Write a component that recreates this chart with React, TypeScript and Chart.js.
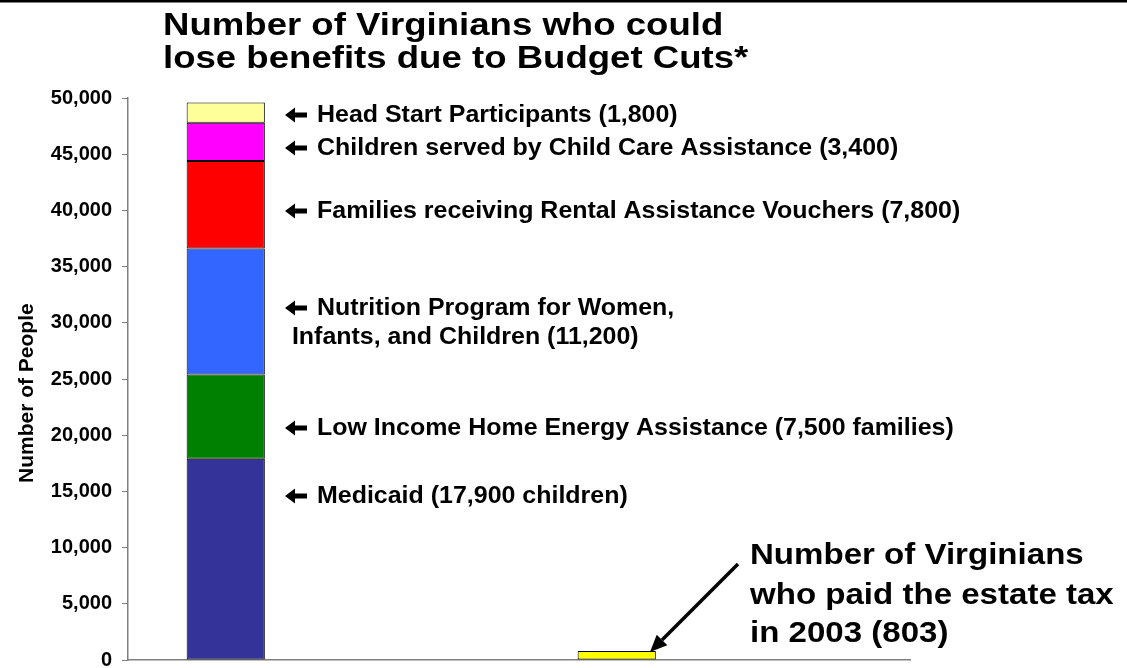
import React, { useEffect, useRef } from "react";
import { Chart, registerables } from "chart.js";

Chart.register(...registerables);

// ---------- data ----------
const categories = ["Budget cuts", "Estate tax"];
const medicaidValues = [17900, null];
const energyValues = [7500, null];
const nutritionValues = [11200, null];
const rentalValues = [7800, null];
const childCareValues = [3400, null];
const headStartValues = [1800, null];
const estateTaxValues = [null, 803];
const emptySlotValues = [null, null];

const yTickMin = 0;
const yTickMax = 50000;
const yTickStep = 5000;

const titleLines = ["Number of Virginians who could", "lose benefits due to Budget Cuts*"];
const yAxisTitle = "Number of People";
const programNotes = [
  ["Head Start Participants (1,800)"],
  ["Children served by Child Care Assistance (3,400)"],
  ["Families receiving Rental Assistance Vouchers (7,800)"],
  ["Nutrition Program for Women,", " Infants, and Children (11,200)"],
  ["Low Income Home Energy Assistance (7,500 families)"],
  ["Medicaid (17,900 children)"],
];
const estateNote = ["Number of Virginians", "who paid the estate tax", "in 2003 (803)"];

// ---------- styling / layout ----------
const FONT = '"Liberation Sans", Arial, Helvetica, sans-serif';
const W = 1127;
const H = 668;
const noteBaselines = [122, 155, 218, 315, 435, 503];
const noteLineGap = 28.5;
const noteArrowX = 285;
const noteTextX = 317;
const estateBaselines = [564, 604, 642];

function stretchText(ctx: CanvasRenderingContext2D, text: string, x: number, y: number, font: string, sx: number) {
  ctx.save();
  ctx.font = font;
  ctx.translate(x, y);
  ctx.scale(sx, 1);
  ctx.textAlign = "left";
  ctx.textBaseline = "alphabetic";
  ctx.fillStyle = "#000";
  ctx.fillText(text, 0, 0);
  ctx.restore();
}

function leftArrow(ctx: CanvasRenderingContext2D, x: number, cy: number) {
  ctx.save();
  ctx.fillStyle = "#000";
  ctx.beginPath();
  ctx.moveTo(x, cy);
  ctx.lineTo(x + 10, cy - 7.5);
  ctx.lineTo(x + 10, cy - 2.6);
  ctx.lineTo(x + 22, cy - 2.6);
  ctx.lineTo(x + 22, cy + 2.6);
  ctx.lineTo(x + 10, cy + 2.6);
  ctx.lineTo(x + 10, cy + 7.5);
  ctx.closePath();
  ctx.fill();
  ctx.restore();
}

const annotationPlugin = {
  id: "annotations",
  afterDraw(chart: any) {
    const ctx: CanvasRenderingContext2D = chart.ctx;
    ctx.save();
    // top rule
    ctx.fillStyle = "#000";
    ctx.fillRect(0, 0, W, 2.5);

    // title
    stretchText(ctx, titleLines[0], 163, 34.5, `bold 31px ${FONT}`, 1.18);
    stretchText(ctx, titleLines[1], 163, 67.5, `bold 31px ${FONT}`, 1.18);

    // y axis title
    ctx.save();
    ctx.translate(33, 483);
    ctx.rotate(-Math.PI / 2);
    ctx.scale(1.05, 1);
    ctx.font = `bold 20px ${FONT}`;
    ctx.fillStyle = "#000";
    ctx.textAlign = "left";
    ctx.textBaseline = "alphabetic";
    ctx.fillText(yAxisTitle, 0, 0);
    ctx.restore();

    // program notes
    programNotes.forEach((lines, i) => {
      const base = noteBaselines[i];
      leftArrow(ctx, noteArrowX, base - 7);
      stretchText(ctx, lines[0], noteTextX, base, `bold 24px ${FONT}`, 1.04);
      if (lines[1]) {
        stretchText(ctx, lines[1], noteArrowX, base + noteLineGap, `bold 24px ${FONT}`, 1.04);
      }
    });

    // estate tax note
    estateNote.forEach((t, i) => {
      stretchText(ctx, t, 750, estateBaselines[i], `bold 29px ${FONT}`, 1.14);
    });

    // arrow pointing at the estate tax bar
    const x1 = 738, y1 = 564, x2 = 650, y2 = 652;
    const ang = Math.atan2(y2 - y1, x2 - x1);
    const headLen = 17, headHalf = 7.5;
    const bx = x2 - headLen * Math.cos(ang);
    const by = y2 - headLen * Math.sin(ang);
    ctx.strokeStyle = "#000";
    ctx.lineWidth = 3.5;
    ctx.beginPath();
    ctx.moveTo(x1, y1);
    ctx.lineTo(bx, by);
    ctx.stroke();
    ctx.beginPath();
    ctx.moveTo(x2, y2);
    ctx.lineTo(bx + headHalf * Math.sin(ang), by - headHalf * Math.cos(ang));
    ctx.lineTo(bx - headHalf * Math.sin(ang), by + headHalf * Math.cos(ang));
    ctx.closePath();
    ctx.fillStyle = "#000";
    ctx.fill();
    ctx.restore();
  },
};

export default function App() {
  const ref = useRef<HTMLCanvasElement | null>(null);

  useEffect(() => {
    document.body.style.margin = "0";
    const canvas = ref.current;
    if (!canvas) return;
    const barStyle = {
      stack: "main",
      borderColor: "#000",
      borderWidth: 1,
      borderSkipped: false as const,
      barPercentage: 0.4,
      categoryPercentage: 1.0,
    };
    const chart = new Chart(canvas, {
      type: "bar",
      data: {
        labels: categories,
        datasets: [
          { label: "Medicaid", data: medicaidValues, backgroundColor: "#333399", ...barStyle },
          { label: "Low Income Home Energy Assistance", data: energyValues, backgroundColor: "#008000", ...barStyle },
          { label: "Nutrition Program for Women, Infants, and Children", data: nutritionValues, backgroundColor: "#3366FF", ...barStyle },
          { label: "Rental Assistance Vouchers", data: rentalValues, backgroundColor: "#FF0000", ...barStyle },
          { label: "Child Care Assistance", data: childCareValues, backgroundColor: "#FF00FF", ...barStyle },
          { label: "Head Start", data: headStartValues, backgroundColor: "#FFFF99", ...barStyle },
          { label: "Estate tax payers (2003)", data: estateTaxValues, backgroundColor: "#FFFF00", ...barStyle },
          { label: "", data: emptySlotValues, backgroundColor: "rgba(0,0,0,0)", ...barStyle, stack: "empty" },
        ],
      } as any,
      plugins: [annotationPlugin],
      options: {
        responsive: false,
        animation: false,
        layout: { padding: { top: 98, left: 0, right: 217, bottom: 8 } },
        plugins: { legend: { display: false }, tooltip: { enabled: false }, title: { display: false } },
        scales: {
          x: {
            type: "category",
            stacked: true,
            offset: true,
            ticks: { display: false },
            grid: { display: false, drawTicks: false },
            border: { display: true, color: "#808080", width: 1.5 },
            afterFit: (s: any) => { s.height = 0; s.paddingLeft = 0; s.paddingRight = 0; },
          },
          y: {
            type: "linear",
            stacked: true,
            min: yTickMin,
            max: yTickMax,
            ticks: {
              stepSize: yTickStep,
              color: "#000",
              padding: 10,
              font: { family: FONT, size: 20, weight: "bold", lineHeight: 0.8 },
              callback: (v: any) => Number(v).toLocaleString("en-US"),
            },
            grid: { drawOnChartArea: false, drawTicks: true, tickLength: 6, color: "#808080", lineWidth: 1 },
            border: { display: true, color: "#808080", width: 1.5 },
            afterFit: (s: any) => { s.width = 128; s.paddingTop = 0; s.paddingBottom = 0; },
          },
        },
      } as any,
    });
    return () => chart.destroy();
  }, []);

  return (
    <div style={{ width: W, height: H, background: "#fff" }}>
      <canvas ref={ref} width={W} height={H} style={{ display: "block", width: W, height: H }} />
    </div>
  );
}
